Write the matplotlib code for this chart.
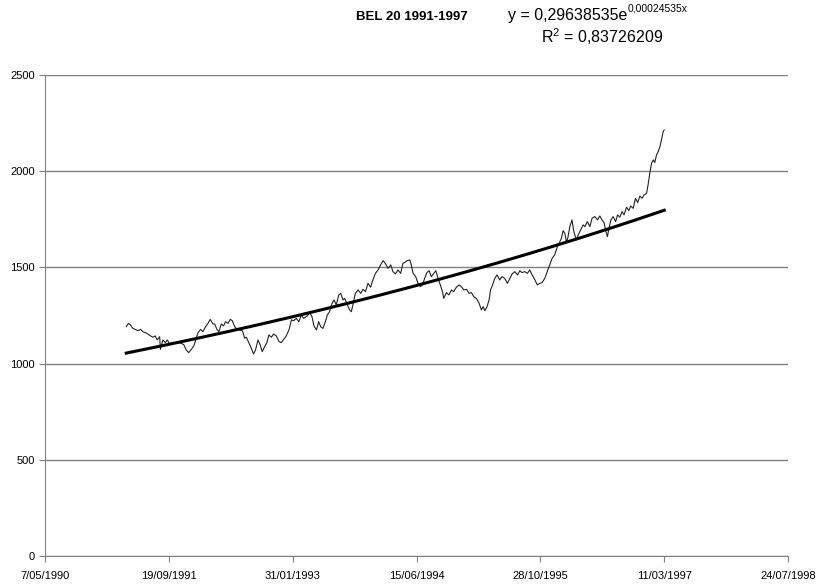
import datetime as dt
import matplotlib
matplotlib.use("Agg")
import matplotlib.pyplot as plt
import numpy as np
from matplotlib.ticker import FuncFormatter

plt.rcParams['font.family'] = ['Liberation Sans', 'DejaVu Sans']
plt.rcParams['mathtext.default'] = 'regular'

# Excel serial day numbers (x of the trend formula) and BEL 20 closing values
days = [33328, 33337, 33345, 33355, 33364, 33375, 33386, 33395, 33405, 33415,
        33426, 33436, 33445, 33453, 33463, 33466, 33476, 33486, 33494, 33503,
        33512, 33523, 33537, 33550, 33561, 33570, 33580, 33591, 33601, 33611,
        33617, 33628, 33638, 33647, 33658, 33667, 33678, 33685, 33694, 33702,
        33712, 33721, 33729, 33739, 33748, 33756, 33766, 33775, 33786, 33797,
        33806, 33813, 33823, 33833, 33842, 33850, 33860, 33869, 33877, 33887,
        33896, 33904, 33914, 33923, 33934, 33945, 33954, 33964, 33974, 33985,
        33995, 34004, 34015, 34025, 34035, 34044, 34059, 34069, 34078, 34086,
        34096, 34105, 34113, 34122, 34132, 34140, 34149, 34159, 34167, 34176,
        34186, 34194, 34203, 34210, 34221, 34230, 34237, 34244, 34253, 34264,
        34275, 34284, 34294, 34304, 34315, 34324, 34334, 34345, 34355, 34365,
        34374, 34385, 34396, 34405, 34415, 34425, 34436, 34445, 34452, 34462,
        34473, 34479, 34486, 34497, 34506, 34516, 34524, 34533, 34542, 34551,
        34560, 34570, 34578, 34587, 34594, 34605, 34610, 34621, 34631, 34641,
        34650, 34661, 34672, 34681, 34691, 34702, 34712, 34722, 34731, 34742,
        34753, 34762, 34769, 34776, 34785, 34793, 34799, 34807, 34816, 34825,
        34836, 34845, 34856, 34867, 34877, 34886, 34897, 34908, 34917, 34926,
        34937, 34948, 34957, 34967, 34978, 34988, 34998, 35007, 35018, 35029,
        35038, 35048, 35058, 35069, 35079, 35085, 35092, 35099, 35106, 35112,
        35119, 35128, 35134, 35139, 35146, 35153, 35163, 35173, 35180, 35190,
        35200, 35209, 35220, 35231, 35240, 35249, 35258, 35263, 35271, 35277,
        35285, 35294, 35304, 35312, 35321, 35330, 35338, 35348, 35357, 35365,
        35375, 35384, 35393, 35402, 35411, 35419, 35429, 35435, 35442, 35449,
        35456, 35462, 35469, 35476, 35483, 35489, 35496, 35500]
bel20 = [1192, 1209, 1201, 1183, 1178, 1171, 1178, 1166, 1161, 1154,
         1144, 1137, 1144, 1123, 1140, 1074, 1123, 1109, 1123, 1102,
         1109, 1106, 1109, 1106, 1097, 1071, 1057, 1074, 1092, 1132,
         1158, 1178, 1166, 1189, 1209, 1230, 1206, 1206, 1178, 1166,
         1206, 1196, 1218, 1209, 1230, 1223, 1192, 1178, 1175, 1171,
         1132, 1137, 1109, 1080, 1050, 1071, 1123, 1097, 1062, 1088,
         1109, 1149, 1137, 1154, 1144, 1114, 1109, 1126, 1144, 1175,
         1227, 1223, 1235, 1218, 1253, 1235, 1248, 1265, 1244, 1196,
         1175, 1218, 1192, 1183, 1218, 1253, 1270, 1313, 1331, 1305,
         1357, 1365, 1331, 1339, 1305, 1279, 1270, 1310, 1365, 1383,
         1365, 1386, 1374, 1417, 1397, 1435, 1469, 1487, 1513, 1535,
         1521, 1495, 1513, 1478, 1466, 1487, 1469, 1521, 1525, 1535,
         1539, 1513, 1469, 1452, 1417, 1400, 1409, 1443, 1473, 1483,
         1452, 1469, 1483, 1443, 1417, 1374, 1339, 1369, 1357, 1383,
         1374, 1397, 1409, 1400, 1383, 1386, 1365, 1369, 1348, 1339,
         1313, 1279, 1296, 1275, 1296, 1331, 1383, 1409, 1443, 1461,
         1435, 1452, 1443, 1417, 1443, 1466, 1478, 1461, 1483, 1473,
         1478, 1469, 1487, 1461, 1435, 1409, 1417, 1421, 1443, 1483,
         1513, 1548, 1565, 1608, 1634, 1651, 1691, 1677, 1629, 1660,
         1712, 1747, 1695, 1669, 1643, 1669, 1695, 1721, 1712, 1738,
         1712, 1756, 1764, 1747, 1767, 1747, 1730, 1695, 1660, 1703,
         1747, 1764, 1738, 1773, 1761, 1790, 1773, 1813, 1795, 1819,
         1807, 1859, 1837, 1871, 1859, 1877, 1885, 1929, 1990, 2041,
         2059, 2045, 2084, 2102, 2128, 2162, 2206, 2214]

# exponential trend fitted by the spreadsheet
coef_a = 0.29638535
coef_b = 0.00024535
r_squared = 0.83726209

x_ticks = [33000, 33500, 34000, 34500, 35000, 35500, 36000]
y_ticks = [0, 500, 1000, 1500, 2000, 2500]


def serial_to_label(v, pos=None):
    d = dt.datetime(1899, 12, 30) + dt.timedelta(days=int(round(v)))
    return f"{d.day}/{d.month:02d}/{d.year}"


fig = plt.figure(figsize=(8.16, 5.86), dpi=100)
ax = fig.add_axes([45 / 816, 30 / 586, 743 / 816, 481 / 586])

days_arr = np.array(days)
trend = coef_a * np.exp(coef_b * days_arr)

ax.plot(days_arr, bel20, color='#222222', lw=0.8, zorder=3)
ax.plot(days_arr, trend, color='black', lw=2.2, zorder=4)

ax.set_xlim(x_ticks[0], x_ticks[-1])
ax.set_ylim(y_ticks[0], y_ticks[-1])
ax.set_xticks(x_ticks)
ax.set_yticks(y_ticks)
ax.xaxis.set_major_formatter(FuncFormatter(serial_to_label))
ax.grid(axis='y', color='#808080', lw=1)
ax.set_axisbelow(True)
for side in ['top', 'right']:
    ax.spines[side].set_visible(False)
for side in ['left', 'bottom']:
    ax.spines[side].set_color('#808080')
ax.tick_params(axis='both', colors='#808080', labelcolor='black', labelsize=8, length=4)
ax.tick_params(axis='x', pad=7)

fig.text(356 / 816, 1 - 20 / 586, "BEL 20 1991-1997", fontsize=9.5, fontweight='bold',
         ha='left', va='baseline')
eq = fig.text(508 / 816, 1 - 20 / 586, "y = 0,29638535e", fontsize=11.5,
              ha='left', va='baseline')
ax.annotate("0,00024535x", xy=(1.0, 0.62), xycoords=eq, fontsize=7.5,
            ha='left', va='bottom', annotation_clip=False)
fig.text(541 / 816, 1 - 43 / 586, "R$^2$ = 0,83726209", fontsize=11.5,
         ha='left', va='baseline')

fig.savefig("out.png", dpi=100)
